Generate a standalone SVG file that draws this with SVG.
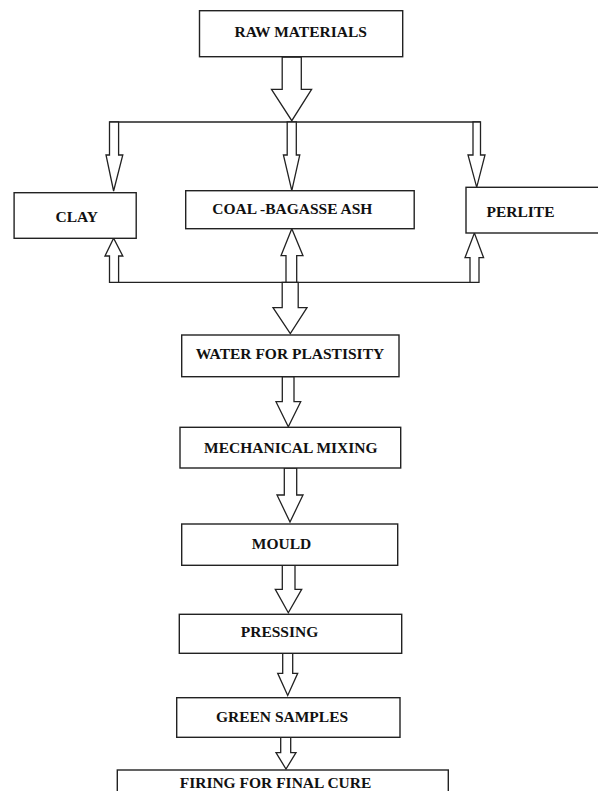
<svg xmlns="http://www.w3.org/2000/svg" width="598" height="791" viewBox="0 0 598 791">
<style>
.box{fill:#fff;stroke:#222;stroke-width:1.4}
.lbl{font-family:"Liberation Serif","Times New Roman",serif;font-weight:bold;font-size:15.5px;fill:#111;text-anchor:middle}
.arr{fill:#fff;stroke:#222;stroke-width:1.3;stroke-linejoin:miter}
.ln{fill:none;stroke:#222;stroke-width:1.3}
</style>
<rect width="598" height="791" fill="#fff"/>
<g id="connectors">
  <polygon class="arr" points="282.2,57 301.3,57 301.3,89.3 311.6,89.3 291.8,120.7 271.5,89.3 282.2,89.3"/>
  <line class="ln" x1="109.5" y1="122" x2="480.5" y2="122"/>
  <polygon class="arr" points="109.5,122 118.6,122 118.6,155 122.8,155 113.6,191 106,155 109.5,155"/>
  <polygon class="arr" points="287.2,122 296.3,122 296.3,155 299.8,155 291.8,190.7 283.4,155 287.2,155"/>
  <polygon class="arr" points="473,122 480.5,122 480.5,155 485,155 476.7,187.3 468,155 473,155"/>
  <line class="ln" x1="109.5" y1="282.3" x2="479" y2="282.3"/>
  <polygon class="arr" points="109.5,282.3 118.6,282.3 118.6,256 122.8,256 113.6,238.3 105,256 109.5,256"/>
  <polygon class="arr" points="286,282.3 296.7,282.3 296.7,255.7 303,255.7 291.8,228.7 281,255.7 286,255.7"/>
  <polygon class="arr" points="470,282.3 479,282.3 479,257.7 483.6,257.7 474.4,233 465,257.7 470,257.7"/>
  <polygon class="arr" points="282.2,282.3 298.2,282.3 298.2,307.7 307,307.7 290.3,333.5 273,307.7 282.2,307.7"/>
  <polygon class="arr" points="282.3,376.7 294,376.7 294,401.7 300.7,401.7 288.3,426.7 276,401.7 282.3,401.7"/>
  <polygon class="arr" points="284.3,468 296.7,468 296.7,495 303,495 290,522 277,495 284.3,495"/>
  <polygon class="arr" points="282.3,565.3 295,565.3 295,589.3 301.7,589.3 288.3,612.7 275.3,589.3 282.3,589.3"/>
  <polygon class="arr" points="282.7,653.3 292.7,653.3 292.7,673.3 297.7,673.3 287.7,695.5 277.7,673.3 282.7,673.3"/>
  <polygon class="arr" points="280.7,737.3 290.7,737.3 290.7,752.7 296,752.7 286,769 276,752.7 280.7,752.7"/>
</g>
<g id="raw-materials">
  <rect class="box" x="199.5" y="10.7" width="203.2" height="46"/>
  <text class="lbl" x="300.7" y="37.3">RAW MATERIALS</text>
</g>
<g id="clay">
  <rect class="box" x="14.1" y="192.7" width="122.1" height="45.6"/>
  <text class="lbl" x="76.7" y="221.7">CLAY</text>
</g>
<g id="coal-bagasse-ash">
  <rect class="box" x="185.7" y="190.7" width="228.5" height="38"/>
  <text class="lbl" x="292.3" y="214.3">COAL -BAGASSE ASH</text>
</g>
<g id="perlite">
  <rect class="box" x="466" y="187.3" width="140" height="45.7"/>
  <text class="lbl" x="520.5" y="216.7">PERLITE</text>
</g>
<g id="water">
  <rect class="box" x="181.7" y="335" width="217.3" height="41.7"/>
  <text class="lbl" x="290" y="359">WATER FOR PLASTISITY</text>
</g>
<g id="mixing">
  <rect class="box" x="180" y="427.3" width="220.7" height="40.7"/>
  <text class="lbl" x="290.8" y="453.3">MECHANICAL MIXING</text>
</g>
<g id="mould">
  <rect class="box" x="181.7" y="524" width="216" height="41.3"/>
  <text class="lbl" x="281.5" y="549.3">MOULD</text>
</g>
<g id="pressing">
  <rect class="box" x="179.3" y="614.3" width="222.4" height="39"/>
  <text class="lbl" x="279.5" y="637.3">PRESSING</text>
</g>
<g id="green-samples">
  <rect class="box" x="176.7" y="697.7" width="223.3" height="39.6"/>
  <text class="lbl" x="282" y="721.7">GREEN SAMPLES</text>
</g>
<g id="firing">
  <rect class="box" x="117.3" y="770" width="331" height="40"/>
  <text class="lbl" x="275.5" y="788.3">FIRING FOR FINAL CURE</text>
</g>
</svg>
